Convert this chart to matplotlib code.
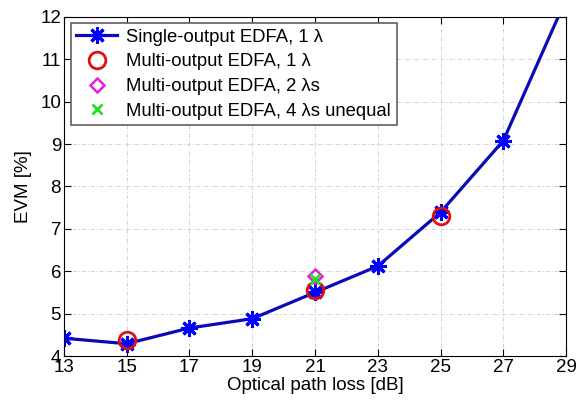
import numpy as np
import matplotlib
matplotlib.use('Agg')
import matplotlib.pyplot as plt

plt.rcParams['font.family'] = ['Liberation Sans', 'DejaVu Sans']

# single-output EDFA, 1 lambda
loss_single = [13, 15, 17, 19, 21, 23, 25, 27, 29]
evm_single = [4.42, 4.29, 4.66, 4.88, 5.50, 6.12, 7.39, 9.08, 12.42]

# multi-output EDFA
loss_multi1 = [15, 21, 25]
evm_multi1 = [4.38, 5.56, 7.30]
loss_multi2 = [21]
evm_multi2 = [5.88]
loss_multi4 = [21]
evm_multi4 = [5.82]

xticks = [13, 15, 17, 19, 21, 23, 25, 27, 29]
yticks = [4, 5, 6, 7, 8, 9, 10, 11, 12]

fig = plt.figure(figsize=(5.86, 4.03), dpi=100)
ax = fig.add_axes([0.109, 0.1166, 0.857, 0.8414])

# matlab style asterisk: 8 arms
ax.plot(loss_single, evm_single, '-', marker=(8, 2, 0), color='#0a0ab8', mec='blue',
        lw=2.3, ms=12, mew=2.2, label='Single-output EDFA, 1 \u03bb')
ax.plot(loss_multi1, evm_multi1, 'o', mfc='none', mec='#e01010', mew=2, ms=12,
        label='Multi-output EDFA, 1 \u03bb')
ax.plot(loss_multi2, evm_multi2, 'D', mfc='none', mec='#e020e0', mew=1.8, ms=7,
        label='Multi-output EDFA, 2 \u03bbs')
ax.plot(loss_multi4, evm_multi4, 'x', color='#20e020', mew=2, ms=7,
        label='Multi-output EDFA, 4 \u03bbs unequal')

ax.set_xlim(13, 29)
ax.set_ylim(4, 12)
ax.set_xticks(xticks)
ax.set_yticks(yticks)
ax.tick_params(direction='in', top=True, right=True, length=5, labelsize=13.5, pad=2)
ax.grid(True, color='#d2d2d2', linestyle=(0, (4, 2, 1, 2)), linewidth=0.7)
ax.set_axisbelow(True)

ax.set_xlabel('Optical path loss [dB]', fontsize=13.5, labelpad=1)
ax.set_ylabel('EVM [%]', fontsize=13.5, labelpad=6)

leg = ax.legend(loc='upper left', bbox_to_anchor=(0.014, 0.982), borderaxespad=0,
                fontsize=13.3, fancybox=False, framealpha=1, handlelength=2.2,
                handletextpad=0.5, labelspacing=0.42, borderpad=0.3)
leg.get_frame().set_edgecolor('#606060')
leg.get_frame().set_linewidth(1.2)

fig.savefig('out.png', dpi=100)
